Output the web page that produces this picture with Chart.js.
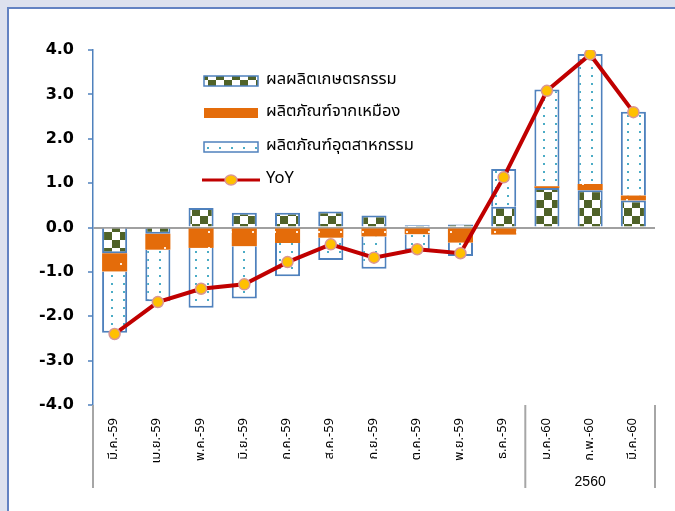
<!DOCTYPE html>
<html>
<head>
<meta charset="utf-8">
<script src="https://cdn.jsdelivr.net/npm/chart.js@4.4.1/dist/chart.umd.min.js"></script>
<style>
  html, body { margin: 0; padding: 0; width: 675px; height: 511px; overflow: hidden; background: #dde1ee; }
  #c { position: absolute; left: 0; top: 0; }
</style>
</head>
<body>
<canvas id="c" width="675" height="511"></canvas>
<script>
const categories = ['มี.ค.-59','เม.ย.-59','พ.ค.-59','มิ.ย.-59','ก.ค.-59','ส.ค.-59','ก.ย.-59','ต.ค.-59','พ.ย.-59','ธ.ค.-59','ม.ค.-60','ก.พ.-60','มี.ค.-60'];
const agriculture = [-0.58, -0.14, 0.44, 0.33, 0.33, 0.36, 0.27, 0.05, 0.07, 0.47, 0.89, 0.84, 0.61];
const mining      = [-0.41, -0.36, -0.46, -0.42, -0.35, -0.23, -0.20, -0.15, -0.34, -0.16, 0.04, 0.14, 0.11];
const industry    = [-1.38, -1.16, -1.35, -1.18, -0.75, -0.50, -0.73, -0.36, -0.30, 0.85, 2.18, 2.93, 1.89];
const yoy         = [-2.40, -1.68, -1.38, -1.28, -0.78, -0.38, -0.68, -0.49, -0.58, 1.13, 3.08, 3.90, 2.60];
const seriesNames = ['ผลผลิตเกษตรกรรม', 'ผลิตภัณฑ์จากเหมือง', 'ผลิตภัณฑ์อุตสาหกรรม', 'YoY'];
const groupLabel = '2560';

const THAI_FONT = "Tahoma, 'Noto Sans Thai', 'Noto Sans Thai UI', 'Leelawadee UI', 'Loma', 'Garuda', 'Norasi', 'DejaVu Sans', sans-serif";

function makePattern(w, h, draw) {
  const c = document.createElement('canvas');
  c.width = w; c.height = h;
  const g = c.getContext('2d');
  draw(g);
  return document.getElementById('c').getContext('2d').createPattern(c, 'repeat');
}
const checker = makePattern(16, 16, g => {
  g.fillStyle = '#ffffff'; g.fillRect(0, 0, 16, 16);
  g.fillStyle = '#4f6228'; g.fillRect(0, 0, 8, 8); g.fillRect(8, 8, 8, 8);
});
const orangeDots = makePattern(22, 16, g => {
  g.fillStyle = '#e46c0a'; g.fillRect(0, 0, 22, 16);
  g.fillStyle = '#ffeedd'; g.fillRect(10, 7, 2, 2);
});
const tealDots = makePattern(12, 8, g => {
  g.fillStyle = '#ffffff'; g.fillRect(0, 0, 12, 8);
  g.fillStyle = '#4bacc6'; g.fillRect(3, 3, 2, 2);
});

const BAR_BORDER = '#4f81bd';

const frame = {
  id: 'frame',
  beforeDraw(chart) {
    const ctx = chart.ctx;
    ctx.save();
    ctx.fillStyle = '#dde1ee';
    ctx.fillRect(0, 0, chart.width, chart.height);
    ctx.fillStyle = '#ffffff';
    ctx.fillRect(8, 8, chart.width, chart.height);
    ctx.strokeStyle = '#6382c2';
    ctx.lineWidth = 2;
    ctx.beginPath();
    ctx.moveTo(8, chart.height + 5); ctx.lineTo(8, 8); ctx.lineTo(chart.width + 5, 8);
    ctx.stroke();
    ctx.restore();
  }
};

const extras = {
  id: 'extras',
  afterDraw(chart) {
    const ctx = chart.ctx;
    const area = chart.chartArea;
    const xs = chart.scales.x;
    ctx.save();
    // group separators under the axis
    ctx.strokeStyle = '#a6a6a6';
    ctx.lineWidth = 2;
    const bx = (xs.getPixelForValue(9) + xs.getPixelForValue(10)) / 2;
    [area.left, bx, area.right].forEach(x => {
      ctx.beginPath(); ctx.moveTo(x, area.bottom); ctx.lineTo(x, 488); ctx.stroke();
    });
    // group label
    ctx.fillStyle = '#000000';
    ctx.font = "14px 'Liberation Sans', Arial, sans-serif";
    ctx.textAlign = 'center'; ctx.textBaseline = 'middle';
    ctx.fillText(groupLabel, xs.getPixelForValue(11), 482);

    // legend
    const fills = [checker, orangeDots, tealDots];
    const ys = [81, 113, 147, 180];
    const lx = 204, lw = 54;
    for (let i = 0; i < 4; i++) {
      const y = ys[i];
      if (i < 3) {
        ctx.fillStyle = fills[i];
        ctx.fillRect(lx, y - 5, lw, 10);
        if (i !== 1) {
          ctx.strokeStyle = BAR_BORDER; ctx.lineWidth = 1.5;
          ctx.strokeRect(lx, y - 5, lw, 10);
        }
      } else {
        ctx.strokeStyle = '#c00000'; ctx.lineWidth = 3;
        ctx.beginPath(); ctx.moveTo(lx - 2, y); ctx.lineTo(lx + lw + 2, y); ctx.stroke();
        ctx.fillStyle = '#ffc000'; ctx.strokeStyle = '#d99694'; ctx.lineWidth = 1.5;
        ctx.beginPath(); ctx.ellipse(lx + lw / 2, y, 6, 5, 0, 0, Math.PI * 2); ctx.fill(); ctx.stroke();
      }
      ctx.fillStyle = '#000000';
      ctx.font = "16.5px " + THAI_FONT;
      ctx.textAlign = 'left'; ctx.textBaseline = 'middle';
      ctx.fillText(seriesNames[i], 266, y);
    }
    ctx.restore();
  }
};

new Chart(document.getElementById('c'), {
  data: {
    labels: categories,
    datasets: [
      { type: 'line', label: seriesNames[3], data: yoy, stack: 'yoy', order: 0,
        borderColor: '#c00000', borderWidth: 4, pointRadius: 5.5,
        pointBackgroundColor: '#ffc000', pointBorderColor: '#d99694', pointBorderWidth: 1.5,
        tension: 0, fill: false },
      { type: 'bar', label: seriesNames[0], data: agriculture, stack: 'comp', order: 1,
        backgroundColor: checker, borderColor: BAR_BORDER, borderWidth: 2 },
      { type: 'bar', label: seriesNames[1], data: mining, stack: 'comp', order: 1,
        backgroundColor: orangeDots, borderWidth: 0 },
      { type: 'bar', label: seriesNames[2], data: industry, stack: 'comp', order: 1,
        backgroundColor: tealDots, borderColor: BAR_BORDER, borderWidth: 2 }
    ]
  },
  options: {
    responsive: false,
    animation: false,
    devicePixelRatio: 1,
    layout: { padding: { left: 0, right: 20, top: 50, bottom: 0 } },
    datasets: { bar: { barPercentage: 0.58, categoryPercentage: 1.0 } },
    plugins: { legend: { display: false }, tooltip: { enabled: false } },
    scales: {
      x: {
        stacked: true,
        grid: { display: false, drawTicks: false },
        border: { display: false },
        ticks: { minRotation: 90, maxRotation: 90, autoSkip: false, padding: 13, color: '#000000',
                 font: { family: THAI_FONT, size: 13 } },
        afterFit(s) { s.height = 106; }
      },
      y: {
        stacked: true,
        min: -4, max: 4,
        ticks: { stepSize: 1, padding: 14, color: '#000000',
                 font: { family: "'DejaVu Sans', sans-serif", size: 16, weight: 'bold' },
                 callback: v => Number(v).toFixed(1) },
        grid: { color: c => (c.tick && c.tick.value === 0) ? '#a0a0a0' : 'rgba(0,0,0,0)',
                lineWidth: 2, tickColor: BAR_BORDER, tickLength: 5, tickWidth: 1.5 },
        border: { display: true, color: BAR_BORDER, width: 1.5 },
        afterFit(s) { s.width = 93; }
      }
    }
  },
  plugins: [frame, extras]
});
</script>
</body>
</html>
